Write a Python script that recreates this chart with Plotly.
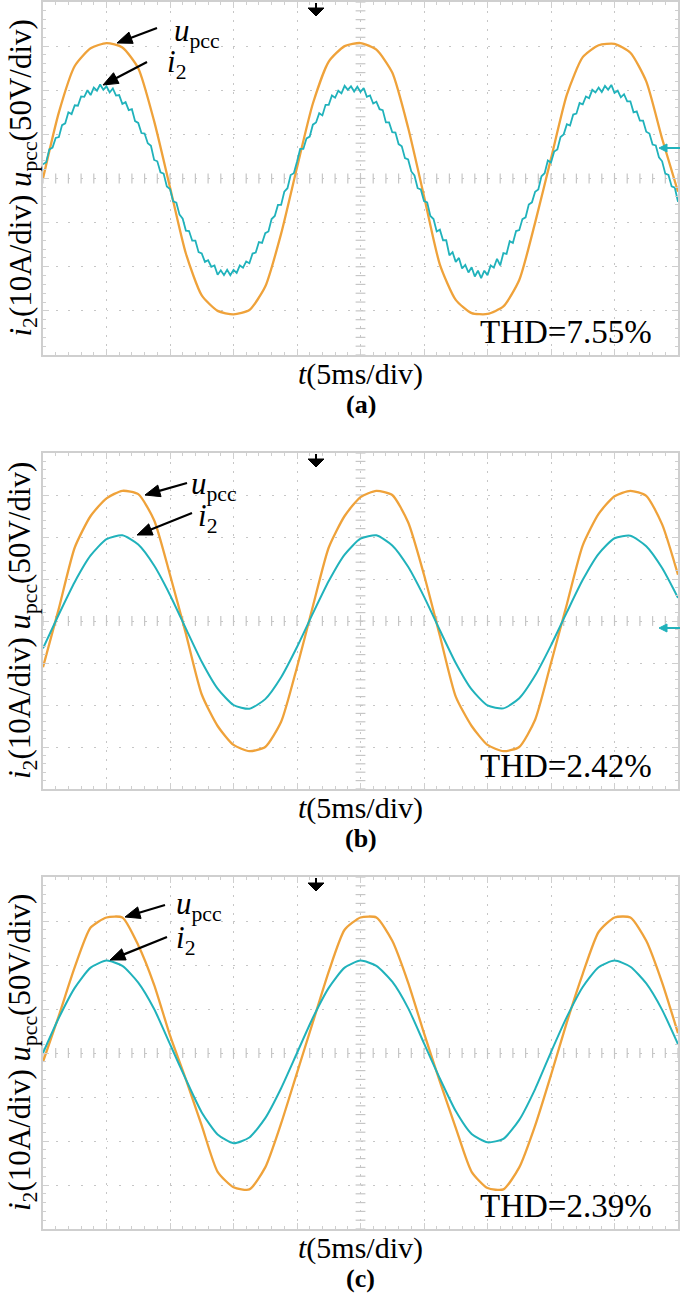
import numpy as np
import plotly.graph_objects as go

W, H = 685, 1296

# ---------------- data ----------------
# horizontal position in divisions (5 ms/div), vertical value in divisions
t_coarse = np.round(np.arange(0, 10.0001, 0.25), 2)   # 41 samples
t_fine = np.round(np.arange(0, 10.0001, 0.05), 2)     # 201 samples

# (a)
u_pcc_a = [0.0, 1.5, 2.55, 2.95, 3.07, 2.97, 2.5, 1.3, -0.2, -1.7, -2.65, -3.0, -3.08, -2.98, -2.45,
           -1.25, 0.25, 1.7, 2.65, 3.0, 3.07, 2.92, 2.4, 1.15, -0.4, -1.95, -2.75, -3.05, -3.07, -2.9,
           -2.3, -1.0, 0.45, 1.9, 2.75, 3.02, 3.05, 2.85, 2.2, 0.9, -0.3]
i2_a = [0.32, 0.37, 0.66, 0.70, 0.92, 0.94, 1.21, 1.25, 1.50, 1.46,
        1.66, 1.65, 1.86, 1.85, 2.00, 1.89, 2.06, 1.99, 2.13, 2.01,
        2.09, 1.95, 2.04, 1.88, 1.89, 1.69, 1.73, 1.55, 1.57, 1.30,
        1.26, 1.03, 1.02, 0.80, 0.74, 0.42, 0.39, 0.14, 0.11, -0.18,
        -0.24, -0.52, -0.55, -0.82, -0.91, -1.18, -1.19, -1.41, -1.41, -1.67,
        -1.70, -1.89, -1.85, -2.00, -1.97, -2.18, -2.08, -2.19, -2.07, -2.19,
        -2.07, -2.14, -1.97, -2.02, -1.88, -1.92, -1.70, -1.68, -1.44, -1.46,
        -1.24, -1.20, -0.92, -0.85, -0.60, -0.60, -0.30, -0.22, 0.08, 0.12,
        0.38, 0.67, 0.67, 0.91, 0.95, 1.22, 1.27, 1.48, 1.43, 1.67,
        1.67, 1.88, 1.83, 1.99, 1.93, 2.10, 2.01, 2.09, 1.97, 2.08,
        1.96, 2.05, 1.85, 1.88, 1.70, 1.74, 1.57, 1.55, 1.27, 1.27,
        1.05, 1.04, 0.78, 0.73, 0.46, 0.43, 0.16, 0.07, -0.22, -0.25,
        -0.51, -0.54, -0.85, -0.92, -1.20, -1.16, -1.40, -1.40, -1.74, -1.67,
        -1.89, -1.80, -2.04, -1.96, -2.13, -2.01, -2.22, -2.09, -2.26, -2.09,
        -2.19, -1.97, -2.02, -1.82, -1.97, -1.69, -1.71, -1.42, -1.46, -1.19,
        -1.17, -0.92, -0.88, -0.59, -0.54, -0.30, -0.25, 0.05, 0.12, 0.41,
        0.36, 0.61, 0.66, 0.94, 1.00, 1.23, 1.20, 1.45, 1.47, 1.71,
        1.68, 1.86, 1.82, 2.01, 1.95, 2.06, 1.96, 2.10, 2.01, 2.12,
        1.94, 1.99, 1.84, 1.91, 1.75, 1.75, 1.50, 1.52, 1.31, 1.31,
        1.06, 1.02, 0.77, 0.75, 0.48, 0.39, 0.11, 0.08, -0.18, -0.21,
        -0.53]
# (b)
u_pcc_b = [-1.1, 0.3, 1.75, 2.5, 2.92, 3.1, 3.02, 2.4, 1.1, -0.3, -1.75, -2.5, -2.95, -3.1, -3.0,
           -2.4, -1.1, 0.35, 1.75, 2.5, 2.95, 3.1, 3.0, 2.35, 1.1, -0.35, -1.8, -2.5, -2.95, -3.1,
           -3.0, -2.35, -1.0, 0.4, 1.8, 2.55, 2.97, 3.1, 2.98, 2.3, 1.1]
i2_b = [-0.65, 0.16, 0.93, 1.56, 1.95, 2.04, 1.82, 1.32, 0.62, -0.18, -0.97, -1.61, -2.0, -2.09,
        -1.86, -1.34, -0.62, 0.18, 0.95, 1.58, 1.96, 2.04, 1.80, 1.29, 0.58, -0.22, -1.0, -1.63,
        -2.01, -2.08, -1.84, -1.30, -0.58, 0.21, 0.98, 1.60, 1.97, 2.03, 1.78, 1.26, 0.55]
# (c)
u_pcc_c = [-0.2, 0.85, 1.95, 2.85, 3.08, 3.08, 2.45, 1.55, 0.4, -0.6, -1.65, -2.7, -3.05, -3.1,
           -2.6, -1.6, -0.45, 0.7, 1.85, 2.8, 3.08, 3.08, 2.55, 1.6, 0.45, -0.65, -1.7, -2.7,
           -3.07, -3.1, -2.6, -1.65, -0.5, 0.7, 1.8, 2.75, 3.08, 3.08, 2.55, 1.6, 0.45]
i2_c = [0.0, 0.80, 1.48, 1.94, 2.10, 1.98, 1.60, 1.0, 0.2, -0.6, -1.35, -1.85, -2.05, -1.92,
        -1.48, -0.80, 0.0, 0.80, 1.48, 1.94, 2.10, 1.98, 1.62, 1.02, 0.22, -0.58, -1.32, -1.84,
        -2.03, -1.95, -1.52, -0.82, 0.02, 0.82, 1.50, 1.95, 2.10, 1.96, 1.58, 0.98, 0.2]

panel_names = ["(a)", "(b)", "(c)"]
thd_labels = ["THD=7.55%", "THD=2.42%", "THD=2.39%"]
x_title = "<i>t</i>(5ms/div)"
y_title = "<i>i</i><sub>2</sub>(10A/div) <i>u</i><sub>pcc</sub>(50V/div)"
u_label = "<i>u</i><sub>pcc</sub>"
i_label = "<i>i</i><sub>2</sub>"

# ---------------- styling / geometry ----------------
ORANGE = "#EFA23A"
CYAN = "#20B2BB"
GRID = "#c6c6c6"
BORDER = "#cfcfcf"
SERIF = "Liberation Serif, Times New Roman, serif"

PL, PR = 43, 678
panels_px = [(2, 355), (453, 789), (877, 1229)]
arrow_px = [  # (u head, u tail, u text, i head, i tail, i text)
    ((117, 43), (157, 28), (172, 33), (103, 85), (147, 62), (165, 64)),
    ((145, 495), (187, 483), (189, 486), (137, 535), (192, 513), (196, 518)),
    ((125, 917), (165, 905), (174, 906), (110, 960), (167, 937), (174, 940)),
]
chan_marks = [(148, CYAN), (628, CYAN)]   # y-pixel of the channel reference arrows (a), (b)


def fx(px):
    return px / W


def fy(py):
    return 1 - py / H


def arrow_shapes(head, tail, color="black", length=15, half=6, width=2.2):
    hx, hy = head
    tx, ty = tail
    d = np.hypot(tx - hx, ty - hy)
    ux, uy = (tx - hx) / d, (ty - hy) / d          # unit vector head -> tail
    bx, by = hx + ux * length, hy + uy * length      # base of the arrow head
    px_, py_ = -uy, ux
    tri = (f"M{fx(hx)},{fy(hy)} L{fx(bx + px_ * half)},{fy(by + py_ * half)} "
           f"L{fx(bx - px_ * half)},{fy(by - py_ * half)} Z")
    return [
        dict(type="line", xref="paper", yref="paper", x0=fx(bx - ux * 2), y0=fy(by - uy * 2),
             x1=fx(tx), y1=fy(ty), line=dict(color=color, width=width)),
        dict(type="path", xref="paper", yref="paper", path=tri, fillcolor=color,
             line=dict(color=color, width=1)),
    ]


data_sets = [
    (t_coarse, u_pcc_a, t_fine, i2_a),
    (t_coarse, u_pcc_b, t_coarse, i2_b),
    (t_coarse, u_pcc_c, t_coarse, i2_c),
]

fig = go.Figure()
layout = dict(
    width=W, height=H, margin=dict(l=0, r=0, t=0, b=0),
    paper_bgcolor="white", plot_bgcolor="white", showlegend=False,
    annotations=[], shapes=[],
)

centre_y = np.round(np.arange(-4, 4.0001, 0.2), 2)
centre_x = np.round(np.arange(0, 10.0001, 0.2), 2)

for k, (top, bot) in enumerate(panels_px):
    sfx = "" if k == 0 else str(k + 1)
    xa, ya = "x" + sfx, "y" + sfx
    tu, uu, ti, ii = data_sets[k]

    # centre graticule ticks
    fig.add_trace(go.Scatter(x=[5] * len(centre_y), y=centre_y, mode="markers", xaxis=xa, yaxis=ya,
                             marker=dict(symbol="line-ew", size=7, line=dict(color=GRID, width=1.2)),
                             hoverinfo="skip"))
    fig.add_trace(go.Scatter(x=centre_x, y=[0] * len(centre_x), mode="markers", xaxis=xa, yaxis=ya,
                             marker=dict(symbol="line-ns", size=7, line=dict(color=GRID, width=1.2)),
                             hoverinfo="skip"))
    fig.add_trace(go.Scatter(x=tu, y=uu, mode="lines", xaxis=xa, yaxis=ya,
                             line=dict(color=ORANGE, width=2.3, shape="spline", smoothing=0.6),
                             name="u_pcc"))
    if k == 0:
        cy_line = dict(color=CYAN, width=1.8, shape="linear")
    else:
        cy_line = dict(color=CYAN, width=2.0, shape="spline", smoothing=0.6)
    fig.add_trace(go.Scatter(x=ti, y=ii, mode="lines", xaxis=xa, yaxis=ya, line=cy_line, name="i2"))

    common = dict(showticklabels=False, zeroline=False, showgrid=True, gridcolor=GRID, gridwidth=1.3,
                  ticks="inside", ticklen=6, tickcolor=BORDER, tickwidth=1,
                  showline=True, linecolor=BORDER, linewidth=2, mirror="allticks", fixedrange=True)
    layout["xaxis" + sfx] = dict(common, domain=[fx(PL), fx(PR)], anchor=ya, range=[0, 10], dtick=1,
                                 tick0=0, griddash="2px,7px",
                                 minor=dict(dtick=0.2, ticks="inside", ticklen=3, tickcolor=BORDER,
                                            showgrid=False))
    layout["yaxis" + sfx] = dict(common, domain=[fy(bot), fy(top)], anchor=xa, range=[-4, 4], dtick=1,
                                 tick0=0, griddash="2px,10.7px",
                                 minor=dict(dtick=0.2, ticks="inside", ticklen=3, tickcolor=BORDER,
                                            showgrid=False))

    ann = layout["annotations"]
    mid = (top + bot) / 2
    ann.append(dict(text=y_title, x=fx(22), y=fy(mid), xref="paper", yref="paper", textangle=-90,
                    showarrow=False, xanchor="center", yanchor="middle",
                    font=dict(family=SERIF, size=31, color="black")))
    ann.append(dict(text=x_title, x=fx((PL + PR) / 2), y=fy(bot + 19), xref="paper", yref="paper",
                    showarrow=False, xanchor="center", yanchor="middle",
                    font=dict(family=SERIF, size=30, color="black")))
    ann.append(dict(text="<b>" + panel_names[k] + "</b>", x=fx((PL + PR) / 2), y=fy(bot + 49),
                    xref="paper", yref="paper", showarrow=False, xanchor="center", yanchor="middle",
                    font=dict(family=SERIF, size=26, color="black")))
    ann.append(dict(text=thd_labels[k], x=fx(566), y=fy(bot - 23), xref="paper", yref="paper",
                    showarrow=False, xanchor="center", yanchor="middle",
                    font=dict(family=SERIF, size=33, color="black")))

    uh, ut, utx, ih, it, itx = arrow_px[k]
    layout["shapes"] += arrow_shapes(uh, ut) + arrow_shapes(ih, it)
    ann.append(dict(text=u_label, x=fx(utx[0]), y=fy(utx[1]), xref="paper", yref="paper",
                    showarrow=False, xanchor="left", yanchor="middle",
                    font=dict(family=SERIF, size=31, color="black")))
    ann.append(dict(text=i_label, x=fx(itx[0]), y=fy(itx[1]), xref="paper", yref="paper",
                    showarrow=False, xanchor="left", yanchor="middle",
                    font=dict(family=SERIF, size=31, color="black")))

    # trigger marker at the top of the graticule
    tx, tt = 316, top
    layout["shapes"].append(dict(type="path", xref="paper", yref="paper",
                                 path=f"M{fx(tx-8)},{fy(tt+6)} L{fx(tx+8)},{fy(tt+6)} L{fx(tx)},{fy(tt+14)} Z",
                                 fillcolor="black", line=dict(color="black", width=1)))
    layout["shapes"].append(dict(type="line", xref="paper", yref="paper",
                                 x0=fx(tx), x1=fx(tx), y0=fy(tt + 1), y1=fy(tt + 8),
                                 line=dict(color="black", width=2)))

# channel reference arrows at the right edge of (a) and (b)
for ym, col in chan_marks:
    layout["shapes"] += arrow_shapes((659, ym), (680, ym), color=col, length=8, half=4, width=2)

fig.update_layout(**layout)
fig.write_html("out.html", config={"displayModeBar": False},
               post_script="document.body.style.margin='0';")
